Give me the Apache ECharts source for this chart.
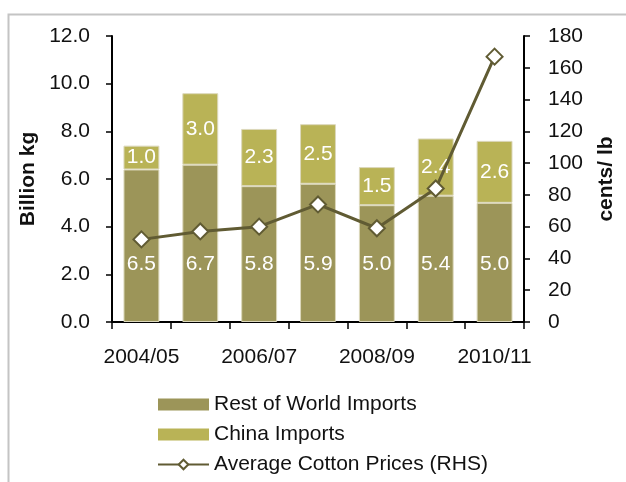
<!DOCTYPE html>
<html>
<head>
<meta charset="utf-8">
<script src="https://cdn.jsdelivr.net/npm/echarts@6/dist/echarts.min.js"></script>
<style>html,body{margin:0;padding:0;background:#fff;}#c{width:626px;height:482px;}</style>
</head>
<body>
<div id="c"></div>
<script>
var categories = ['2004/05','2005/06','2006/07','2007/08','2008/09','2009/10','2010/11'];
var restOfWorld = [6.4, 6.6, 5.7, 5.8, 4.9, 5.3, 5.0];
var restOfWorldLabels = ['6.5','6.7','5.8','5.9','5.0','5.4','5.0'];
var china = [1.0, 3.0, 2.4, 2.5, 1.6, 2.4, 2.6];
var chinaLabels = ['1.0','3.0','2.3','2.5','1.5','2.4','2.6'];
var cottonPrices = [52, 57, 60, 74, 59, 84, 167];

var FONT = 'Liberation Sans, Arial, sans-serif';
var FS = 21;
var chart = echarts.init(document.getElementById('c'));
chart.setOption({
  animation: false,
  backgroundColor: '#fff',
  textStyle: {fontFamily: FONT},
  graphic: [{
    type: 'rect', left: 6, top: 12, silent: true,
    shape: {width: 700, height: 600},
    style: {fill: 'none', stroke: '#c4c4c4', lineWidth: 2}
  }],
  grid: {left: 112, right: 102, top: 36, bottom: 160},
  legend: {
    orient: 'vertical', left: 152, top: 389,
    itemWidth: 51, itemHeight: 12, itemGap: 9,
    textStyle: {fontSize: FS, color: '#111', fontFamily: FONT},
    data: [
      {name: 'Rest of World Imports', icon: 'rect', itemStyle: {borderWidth: 0}},
      {name: 'China Imports', icon: 'rect', itemStyle: {borderWidth: 0}},
      {name: 'Average Cotton Prices (RHS)'}
    ]
  },
  xAxis: {
    type: 'category', data: categories,
    axisLine: {lineStyle: {color: '#000', width: 2}},
    axisTick: {show: true, interval: 0, length: 7, lineStyle: {color: '#000', width: 1.5}},
    axisLabel: {interval: 1, color: '#111', fontSize: FS, margin: 25, fontFamily: FONT}
  },
  yAxis: [{
    type: 'value', min: 0, max: 12, interval: 2,
    name: 'Billion kg', nameLocation: 'middle', nameGap: 69,
    nameTextStyle: {fontSize: FS, fontWeight: 'bold', color: '#111', fontFamily: FONT},
    axisLine: {show: true, lineStyle: {color: '#000', width: 2}},
    axisTick: {show: true, length: 6, lineStyle: {color: '#000', width: 1.5}},
    splitLine: {show: false},
    axisLabel: {color: '#111', fontSize: FS, margin: 22, fontFamily: FONT,
      formatter: function (v) { return v.toFixed(1); }}
  }, {
    type: 'value', min: 0, max: 180, interval: 20, position: 'right',
    name: 'cents/ lb', nameLocation: 'middle', nameGap: 72,
    nameTextStyle: {fontSize: FS, fontWeight: 'bold', color: '#111', fontFamily: FONT},
    axisLine: {show: true, lineStyle: {color: '#000', width: 2}},
    axisTick: {show: true, length: 6, lineStyle: {color: '#000', width: 1.5}},
    splitLine: {show: false},
    axisLabel: {color: '#111', fontSize: FS, margin: 24, fontFamily: FONT}
  }],
  series: [{
    name: 'Rest of World Imports', type: 'bar', stack: 'imports', data: restOfWorld,
    barCategoryGap: '39%',
    itemStyle: {color: '#9C9559', borderColor: '#dcd8bc', borderWidth: 1},
    label: {show: true, position: 'insideBottom', distance: 47, color: '#fff', fontSize: FS, fontFamily: FONT,
      formatter: function (p) { return restOfWorldLabels[p.dataIndex]; }}
  }, {
    name: 'China Imports', type: 'bar', stack: 'imports', data: china,
    itemStyle: {color: '#B9B356', borderColor: '#dcd8bc', borderWidth: 1},
    label: {show: true, position: 'inside', color: '#fff', fontSize: FS, fontFamily: FONT,
      formatter: function (p) { return chinaLabels[p.dataIndex]; }}
  }, {
    name: 'Average Cotton Prices (RHS)', type: 'line', yAxisIndex: 1, data: cottonPrices,
    z: 5, symbol: 'diamond', symbolSize: 16,
    lineStyle: {color: '#605B33', width: 3},
    itemStyle: {color: '#fff', borderColor: '#605B33', borderWidth: 2}
  }]
});
</script>
</body>
</html>
